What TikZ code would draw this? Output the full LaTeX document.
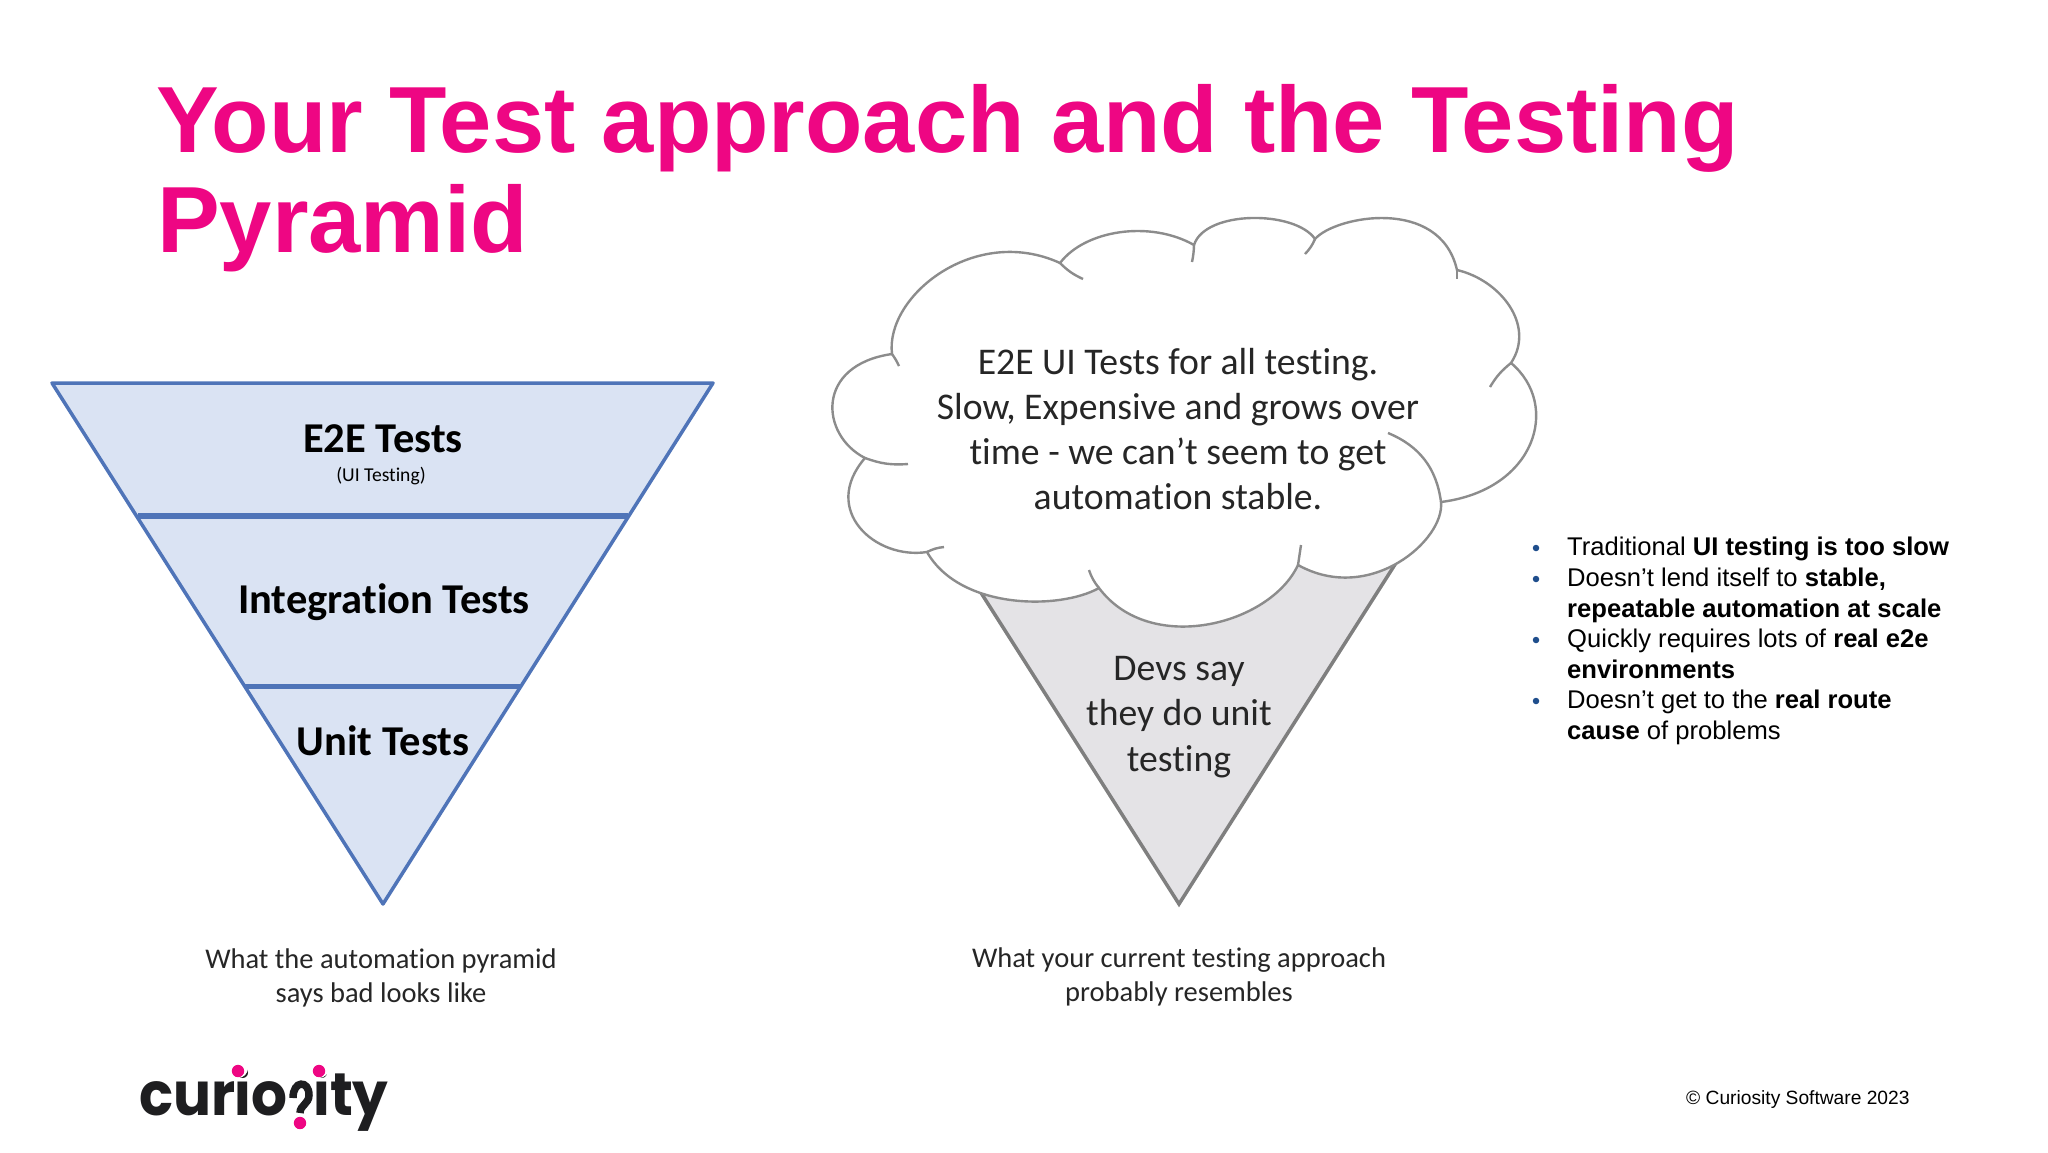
\documentclass[tikz,border=0pt]{standalone}
\usepackage{fontspec}
\setmainfont{Liberation Sans}
\newfontfamily\calfont{Carlito}[Ligatures=CommonOff]
\newfontfamily\logofont{Poppins}[UprightFont=* Bold,FakeStretch=0.94]
\definecolor{titlepink}{HTML}{EE0683}
\definecolor{pyrfill}{HTML}{DAE3F3}
\definecolor{pyrline}{HTML}{4F74B8}
\definecolor{conefill}{HTML}{E4E3E6}
\definecolor{coneline}{HTML}{7F7F7F}
\definecolor{cloudline}{HTML}{8C8C8C}
\definecolor{bulletblue}{HTML}{1F4E8C}
\definecolor{logoblack}{HTML}{1E1E20}
\tikzset{
  titletext/.style={anchor=base west,inner sep=0pt,text=titlepink,font=\fontsize{94}{100}\selectfont\bfseries},
  pyrlabel/.style={inner sep=0pt,text=black,font=\calfont\fontsize{42.5}{42.5}\selectfont\bfseries},
  cloudtext/.style={inner sep=0pt,align=center,text=black!85,font=\calfont\fontsize{37.7}{45.3}\selectfont},
  captext/.style={inner sep=0pt,align=center,text=black!85,font=\calfont\fontsize{28.5}{34.5}\selectfont},
  itemtext/.style={anchor=north west,inner sep=0pt,align=left,font=\fontsize{25.6}{30.7}\selectfont},
  itemdot/.style={circle,fill=bulletblue,inner sep=0pt,minimum size=6.5pt},
  hook/.style={draw=cloudline,line width=2.4pt},
}
\begin{document}
\begin{tikzpicture}[x=1pt,y=-1pt]
  \useasboundingbox (0,0) rectangle (2048,1152);
  \node[titletext] (line1) at (156,152) {Your Test approach and the Testing};
  \node[titletext] (line2) at (157,252) {Pyramid};

  \fill[pyrfill] (52,383) -- (713,383) -- (383,904) -- cycle;
  \draw[pyrline,line width=5.5pt] (138,516) -- (628,516);
  \draw[pyrline,line width=5pt] (245,686) -- (520,686);
  \draw[pyrline,line width=3.5pt,line join=round] (52,383) -- (713,383) -- (383,904) -- cycle;
  \node[pyrlabel] (e2e) at (383,439) {E2E Tests};
  \node[inner sep=0pt,font=\calfont\fontsize{19.6}{19.6}\selectfont] (ui) at (381,476) {(UI Testing)};
  \node[pyrlabel] (integ) at (384,602) {Integration Tests};
  \node[pyrlabel] (unit) at (383,741) {Unit Tests};
  \node[captext] (cap1) at (381,978) {What the automation pyramid\\says bad looks like};

  \draw[fill=conefill,draw=coneline,line width=3.5pt] (922,500) -- (1436,500) -- (1179,904) -- cycle;

  \coordinate (n1) at (1060,263);
  \coordinate (n2) at (1194,245);
  \coordinate (n3) at (1315,239);
  \coordinate (n4) at (1457,270);
  \coordinate (n5) at (1511,363);
  \coordinate (n6) at (1441,502);
  \coordinate (n7) at (1298,565);
  \coordinate (n8) at (1099,588);
  \coordinate (n9) at (927,552);
  \coordinate (n10) at (865,458);
  \coordinate (n11) at (892,354);
  \draw[fill=white,hook] (n11)
    .. controls (885,296) and (975,224) .. (n1)
    .. controls (1085,230) and (1150,220) .. (n2)
    .. controls (1205,210) and (1295,210) .. (n3)
    .. controls (1335,216) and (1440,196) .. (n4)
    .. controls (1500,280) and (1536,325) .. (n5)
    .. controls (1561,405) and (1536,490) .. (n6)
    .. controls (1445,540) and (1370,605) .. (n7)
    .. controls (1270,625) and (1150,656) .. (n8)
    .. controls (1060,610) and (960,610) .. (n9)
    .. controls (875,560) and (820,510) .. (n10)
    .. controls (820,435) and (815,365) .. (n11) -- cycle;
  \coordinate (h1) at (1083,279);
  \coordinate (h2) at (1192,262);
  \coordinate (h3) at (1305,254);
  \coordinate (h4) at (1457,279);
  \coordinate (h5) at (1490,387);
  \coordinate (h6) at (1388,433);
  \coordinate (h7) at (1301,545);
  \coordinate (h8) at (1089,570);
  \coordinate (h9) at (944,547);
  \coordinate (h10) at (908,464);
  \coordinate (h11) at (899,366);
  \foreach \a/\b/\k in {n1/h1/-10,n2/h2/5,n3/h3/10,n4/h4/0,n5/h5/-10,n6/h6/-30,n7/h7/0,n8/h8/10,n9/h9/10,n10/h10/-12,n11/h11/5} {%
    \draw[hook] (\a) to[bend left=\k] (\b);
  }
  \node[cloudtext] (cloudmsg) at (1178,429) {E2E UI Tests for all testing.\\Slow, Expensive and grows over\\time - we can’t seem to get\\automation stable.};
  \node[cloudtext] (devs) at (1179,717) {Devs say\\they do unit\\testing};
  \node[captext] (cap2) at (1179,977) {What your current testing approach\\probably resembles};

  \node[itemdot] (dot1) at (1536,548) {};
  \node[itemdot] (dot2) at (1536,579) {};
  \node[itemdot] (dot3) at (1536,640) {};
  \node[itemdot] (dot4) at (1536,701) {};
  \node[itemtext] (item1) at (1567,537) {Traditional \textbf{UI testing is too slow}};
  \node[itemtext] (item2) at (1567,568) {Doesn’t lend itself to \textbf{stable,}\\\textbf{repeatable automation at scale}};
  \node[itemtext] (item3) at (1567,629) {Quickly requires lots of \textbf{real e2e}\\\textbf{environments}};
  \node[itemtext] (item4) at (1567,690) {Doesn’t get to the \textbf{real route}\\\textbf{cause} of problems};
  \node[anchor=west,inner sep=0pt,font=\fontsize{19.2}{20}\selectfont] (copy) at (1686,1100) {© Curiosity Software 2023};

  \node[anchor=base west,inner sep=0pt,text=logoblack,font=\logofont\fontsize{60}{60}\selectfont] (logo) at (139,1115) {cur\kern-1pt io\kern2pt\textcolor{white}{s}\kern-7pt it\kern-1pt y};
  \draw[logoblack,line width=7.5pt] (293,1098) .. controls (293,1080) and (309,1080) .. (309,1095) .. controls (309,1104) and (300,1105) .. (300,1113);
  \fill[white] (238,1068) circle (10) (319,1068) circle (10);
  \fill[titlepink] (238,1071) circle (6.2) (319,1071) circle (6.2) (300,1123) circle (6.2);
\end{tikzpicture}
\end{document}
